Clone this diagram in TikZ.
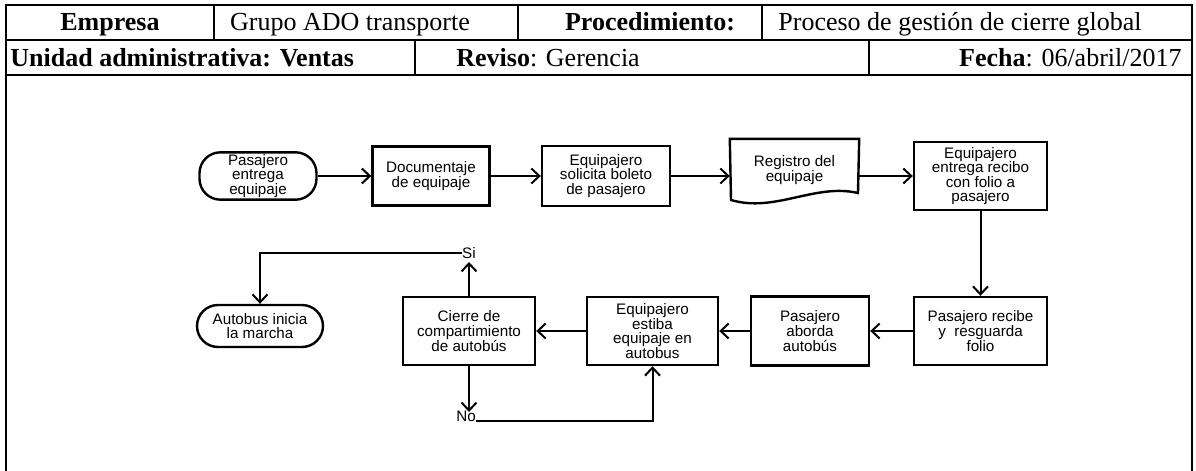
\documentclass[tikz,border=0pt]{standalone}
\usepackage{fontspec}
\setmainfont{Liberation Serif}
\newfontfamily\flowfont{Liberation Sans}
\usetikzlibrary{arrows.meta}

\begin{document}
\begin{tikzpicture}[x=0.5pt, y=-0.5pt,
        cell/.style={font=\fontsize{13}{15}\selectfont, inner sep=0pt, anchor=base},
        paso/.style={draw, line width=1.2pt, align=center, inner sep=1pt,
            font=\flowfont\fontsize{7.6}{7.3}\selectfont},
        term/.style={paso, rounded corners=10.5pt},
        flecha/.style={line width=1pt, -{Straight Barb[length=4pt, width=7.5pt]}},
        rama/.style={inner sep=0pt, anchor=base, font=\flowfont\fontsize{7.6}{9}\selectfont}]
        \useasboundingbox (0,0) rectangle (1196,471);

        \draw[line width=1pt] (6,471) -- (6,5) -- (1192,5) -- (1192,471);
        \draw[line width=1pt] (6,40) -- (1192,40);
        \draw[line width=1pt] (6,75) -- (1192,75);
        \foreach \xa in {214, 518, 762} \draw[line width=1pt] (\xa,5) -- (\xa,40);
        \foreach \xa in {415, 869} \draw[line width=1pt] (\xa,40) -- (\xa,75);

        \node[cell] (empresa) at (110,31) {\textbf{Empresa}};
        \node[cell] (grupo) at (350,31) {Grupo ADO transporte};
        \node[cell] (proced) at (650,31) {\textbf{Procedimiento:}};
        \node[cell] (proceso) at (960,31) {Proceso de gestión de cierre global};
        \node[cell, anchor=base west] (unidad) at (10,66) {\textbf{Unidad administrativa: Ventas}};
        \node[cell, anchor=base west] (reviso) at (456,66) {\textbf{Reviso}: Gerencia};
        \node[cell, anchor=base east] (fecha) at (1182,66) {\textbf{Fecha}: 06/abril/2017};

        \node[term, minimum width=58.5pt, minimum height=22.5pt] (entrega) at (258,176) {Pasajero\\entrega\\equipaje};
        \node[paso, minimum width=58.5pt, minimum height=29.5pt] (documenta) at (431,176) {Documentaje\\de equipaje};
        \node[paso, minimum width=64pt, minimum height=30pt] (solicita) at (606,176) {Equipajero\\solicita boleto\\de pasajero};
        \node[paso, draw=none, minimum width=63.5pt, minimum height=30pt] (registro) at (794.5,170) {Registro del\\equipaje};
        \draw[line width=1.2pt] (registro.north west) -- (registro.north east) -- (858,193)
            .. controls (815,183) and (775,213) .. (731,200) -- cycle;
        \node[paso, minimum width=66.5pt, minimum height=34pt] (recibo) at (980.5,176) {Equipajero\\entrega recibo\\con folio a\\pasajero};
        \node[paso, minimum width=66.5pt, minimum height=34pt] (recibe) at (980.5,331) {Pasajero recibe\\y~ resguarda\\folio};
        \node[paso, minimum width=59pt, minimum height=34.5pt] (aborda) at (810,331) {Pasajero\\aborda\\autobús};
        \node[paso, minimum width=65.5pt, minimum height=34pt] (estiba) at (652.5,331) {Equipajero\\estiba\\equipaje en\\autobus};
        \node[paso, minimum width=66pt, minimum height=34pt] (cierre) at (469,331) {Cierre de\\compartimiento\\de autobús};
        \node[term, minimum width=63pt, minimum height=21pt] (marcha) at (260,326) {Autobus inicia\\la marcha};

        \draw[flecha] (entrega) -- (documenta);
        \draw[flecha] (documenta) -- (solicita);
        \draw[flecha] (solicita) -- (solicita -| registro.west);
        \draw[flecha] (registro.east |- recibo.west) -- (recibo);
        \draw[flecha] (recibo) -- (recibe);
        \draw[flecha] (recibe) -- (aborda);
        \draw[flecha] (aborda) -- (estiba);
        \draw[flecha] (estiba) -- (cierre);

        \coordinate (sitope) at (470,262);
        \node[rama] (si) at (469,258) {Si};
        \draw[flecha] (cierre.north) -- (cierre.north |- sitope);
        \draw[flecha] (si.west) -| (marcha.north);

        \coordinate (notope) at (470,412);
        \node[rama] (no) at (466,421) {No};
        \draw[flecha] (cierre.south) -- (cierre.south |- notope);
        \draw[flecha] (no.base east) -| (estiba.south);
    \end{tikzpicture}
\end{document}
